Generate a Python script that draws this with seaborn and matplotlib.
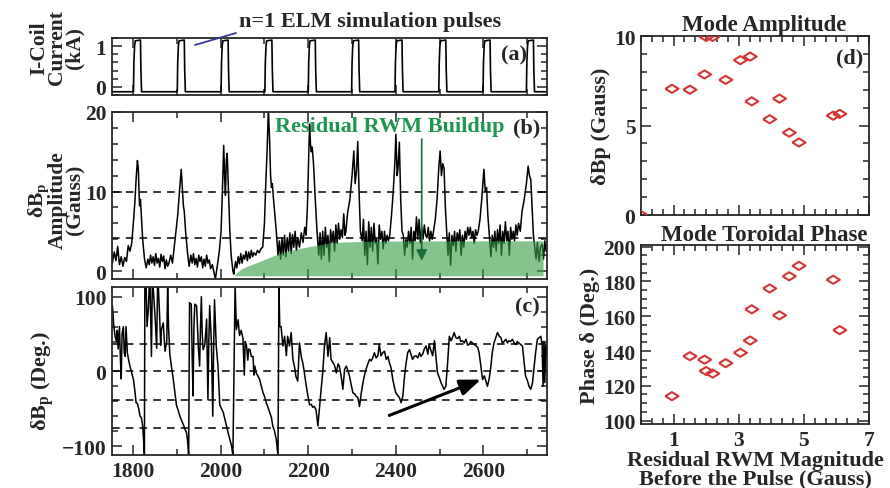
import numpy as np
import pandas as pd
import seaborn as sns
import matplotlib.pyplot as plt
from matplotlib.ticker import MultipleLocator

# ---- (a) I-coil pulses: start times (ms) and pulse shape (offset ms, kA)
pulse_start = [1801, 1901, 2001, 2101, 2200, 2299, 2398, 2498, 2599, 2698]
pulse_dt = [0, 1, 2.5, 4, 16, 17, 18.5]
pulse_lvl = [-0.12, 0.6, 1.0, 1.13, 1.15, 0.4, -0.12]
coil_base = -0.12

# ---- (b) dBp amplitude (Gauss) vs time (ms)
amp_t = [1753, 1757, 1761, 1765, 1769, 1773, 1777, 1781, 1785, 1789, 1793, 1797,
         1800, 1804, 1807, 1810, 1812, 1814, 1815, 1817, 1819, 1822, 1826, 1830,
         1834, 1837, 1840, 1843, 1846, 1849, 1852, 1855, 1858, 1861, 1864, 1867,
         1870, 1873, 1876, 1879, 1882, 1886, 1890, 1894, 1898, 1902, 1906, 1910,
         1913, 1915, 1917, 1920, 1924, 1928, 1932, 1935, 1938, 1941, 1944, 1947,
         1950, 1953, 1956, 1959, 1962, 1965, 1968, 1971, 1974, 1977, 1981, 1985,
         1988, 1992, 1997, 2001, 2004, 2007, 2009, 2011, 2013, 2015, 2018, 2021,
         2024, 2028, 2030, 2034, 2037, 2040, 2043, 2046, 2049, 2052, 2055, 2058,
         2061, 2064, 2067, 2070, 2073, 2076, 2080, 2084, 2088, 2092, 2096, 2100,
         2103, 2106, 2109, 2112, 2114, 2116, 2118, 2120, 2124, 2127, 2131, 2134,
         2137, 2140, 2143, 2146, 2149, 2152, 2155, 2158, 2161, 2164, 2167, 2170,
         2173, 2176, 2180, 2184, 2188, 2192, 2195, 2198, 2201, 2203, 2205, 2207,
         2209, 2212, 2216, 2220, 2224, 2227, 2230, 2233, 2236, 2239, 2242, 2245,
         2248, 2251, 2254, 2257, 2260, 2263, 2266, 2269, 2272, 2275, 2278, 2281,
         2284, 2286, 2290, 2295, 2300, 2304, 2307, 2310, 2313, 2316, 2319, 2323,
         2326, 2329, 2332, 2335, 2338, 2341, 2344, 2347, 2350, 2353, 2356, 2359,
         2362, 2365, 2368, 2371, 2374, 2377, 2380, 2383, 2386, 2390, 2394, 2398,
         2400, 2403, 2405, 2408, 2411, 2414, 2417, 2420, 2423, 2426, 2429, 2432,
         2435, 2438, 2441, 2444, 2447, 2450, 2453, 2456, 2459, 2462, 2465, 2468,
         2471, 2474, 2477, 2480, 2483, 2486, 2490, 2494, 2498, 2501, 2504, 2507,
         2510, 2513, 2516, 2519, 2522, 2525, 2528, 2531, 2534, 2537, 2540, 2543,
         2546, 2549, 2552, 2555, 2558, 2561, 2564, 2567, 2570, 2573, 2576, 2579,
         2582, 2585, 2588, 2592, 2596, 2601, 2604, 2607, 2610, 2614, 2617, 2620,
         2623, 2626, 2629, 2632, 2635, 2638, 2641, 2644, 2647, 2650, 2653, 2656,
         2659, 2662, 2665, 2668, 2671, 2674, 2677, 2680, 2684, 2688, 2693, 2698,
         2702, 2705, 2708, 2711, 2714, 2717, 2720, 2723, 2727, 2730, 2734, 2737,
         2740, 2743]
amp_v = [1.0, 2.4, 1.3, 3.1, 0.8, 1.8, 0.6, 1.7, 1.2, 3.2, 2.5, 3.5,
         5.5, 8.5, 11.5, 13.9, 13.0, 9.5, 8.2, 9.0, 7.0, 4.0, 1.6, 0.4,
         1.5, 0.8, 2.0, 1.0, 1.8, 0.7, 2.2, 1.0, 1.6, 0.5, 2.1, 1.2,
         1.9, 0.3, 1.4, 0.6, 1.0, 2.0, 1.0, 3.0, 5.0, 7.0, 10.0, 12.8,
         10.0, 8.2, 7.5, 5.0, 2.5, 0.6, 2.0, 1.0, 2.2, 0.8, 1.6, 0.5,
         2.0, 1.2, 1.8, 0.4, 1.5, 0.6, 2.0, 1.0, 1.4, 0.3, 0.8, -0.2,
         -1.0, 0.5, 2.5, 5.0, 10.0, 15.8, 12.0, 9.5, 14.0, 14.8, 10.0, 5.0,
         2.0, 0.0, -0.4, 1.2, 0.4, 1.8, 0.9, 2.2, 1.0, 2.0, 1.5, 2.5,
         1.3, 2.4, 1.6, 2.6, 1.8, 2.3, 2.0, 2.6, 2.3, 2.8, 3.0, 6.0,
         11.0, 15.0, 20.5, 16.0, 12.0, 10.5, 11.0, 9.5, 7.0, 5.0, 2.0, 3.8,
         1.5, 4.2, 2.0, 4.5, 1.8, 4.2, 2.5, 4.8, 2.2, 4.6, 3.0, 5.0,
         2.6, 4.2, 3.0, 4.8, 3.6, 5.5, 4.5, 8.0, 14.0, 18.5, 16.0, 15.0,
         15.6, 13.5, 9.0, 5.0, 2.0, 4.8, 1.5, 5.0, 2.0, 5.5, 3.0, 4.5,
         1.2, 5.2, 3.6, 5.0, 2.5, 5.8, 3.5, 6.0, 4.0, 5.2, 4.2, 7.2,
         4.5, 5.0, 7.4, 9.0, 12.0, 15.1, 11.0, 12.5, 16.3, 10.0, 5.0, 3.8,
         6.5, 2.0, 5.0, 0.8, 6.2, 3.0, 5.5, 2.5, 6.0, 3.5, 4.0, 0.9,
         5.8, 4.0, 5.0, 2.8, 5.0, 3.5, 4.5, 3.8, 4.5, 7.0, 10.0, 14.0,
         17.2, 12.0, 13.0, 16.2, 9.0, 5.0, 4.5, 2.0, 4.0, 3.0, 5.0, 3.5,
         5.5, 1.5, 5.0, 3.8, 6.8, 4.0, 6.5, 3.5, 5.5, 4.0, 5.8, 4.5,
         4.2, 5.5, 3.8, 5.0, 4.0, 5.0, 6.5, 9.0, 13.0, 15.1, 12.0, 13.5,
         12.9, 8.0, 5.0, 2.0, 4.8, 0.7, 4.5, 3.2, 5.0, 2.5, 4.8, 3.8,
         5.2, 2.0, 4.5, 3.0, 5.0, 4.0, 5.5, 4.5, 5.5, 4.2, 5.0, 3.5,
         5.2, 4.5, 5.0, 6.5, 9.0, 12.8, 10.0, 10.5, 7.0, 4.0, 1.8, 4.5,
         3.0, 5.0, 2.5, 5.2, 3.5, 5.8, 2.0, 5.0, 3.5, 6.2, 3.8, 5.0,
         2.0, 5.5, 4.0, 5.0, 3.8, 5.8, 4.5, 6.0, 5.0, 7.5, 9.0, 11.0,
         13.2, 12.0, 11.5, 8.0, 4.5, 3.0, 1.5, 3.6, 1.2, 3.0, 3.4, 1.5,
         3.8, 2.5]

# residual RWM buildup envelope (green band)
buildup_t = [2030, 2045, 2060, 2080, 2100, 2120, 2140, 2160, 2180, 2200,
             2225, 2250, 2280, 2320, 2380, 2736]
buildup_v = [-0.6, 0.2, 0.6, 1.0, 1.45, 1.9, 2.3, 2.6, 2.85, 3.05,
             3.3, 3.55, 3.65, 3.72, 3.78, 3.8]
buildup_floor = -0.6

# ---- (c) dBp phase (deg) vs time (ms)
ph_t = [1753, 1756, 1759, 1762, 1764, 1766, 1769, 1771, 1773, 1775, 1778, 1780,
        1782, 1784, 1787, 1790, 1793, 1797, 1801, 1804, 1807, 1810, 1813, 1816,
        1819, 1822, 1825, 1826,
        1827, 1830, 1832, 1835, 1837, 1839, 1842, 1844, 1846, 1850, 1854, 1856,
        1858, 1861, 1863, 1865, 1869, 1873, 1877, 1879, 1881, 1884, 1888, 1892,
        1896, 1899, 1903, 1907, 1911, 1916, 1919, 1922, 1925, 1927,
        1929, 1933, 1935, 1937, 1939, 1941, 1945, 1949, 1952, 1954, 1956, 1958,
        1960, 1964, 1968, 1971, 1973, 1975, 1979, 1982, 1984, 1986, 1989, 1990,
        1994, 1998, 2002, 2006, 2010, 2013, 2017, 2021, 2025, 2028,
        2033, 2036, 2040, 2043, 2047, 2051, 2054, 2056, 2059, 2062, 2064, 2067,
        2070, 2074, 2076, 2078, 2081, 2085, 2089, 2093, 2097, 2101, 2104, 2108,
        2112, 2116, 2119, 2123, 2127, 2131,
        2133, 2135, 2138, 2142, 2146, 2150, 2153, 2157, 2161, 2165, 2169, 2172,
        2176, 2180, 2184, 2188, 2192, 2195, 2199, 2203, 2207, 2210, 2214, 2218,
        2222, 2226, 2230, 2233, 2237, 2241, 2245, 2249, 2252, 2256, 2260, 2264,
        2268, 2271, 2275, 2279, 2283, 2287, 2291, 2294, 2298, 2302, 2306, 2309,
        2313, 2317, 2321, 2325, 2328, 2332, 2336, 2340, 2344, 2347, 2351, 2355,
        2359, 2362, 2366, 2370, 2374, 2378, 2382, 2385, 2389, 2393, 2397, 2400,
        2404, 2408, 2412, 2416, 2419, 2423, 2427, 2431, 2435, 2438, 2442, 2446,
        2450, 2454, 2457, 2461, 2465, 2469, 2473, 2476, 2480, 2484, 2488, 2492,
        2495, 2499, 2503, 2507, 2510, 2514, 2518, 2522, 2526, 2529, 2533, 2537,
        2541, 2545, 2548, 2552, 2556, 2560, 2564, 2567, 2571, 2575, 2579, 2583,
        2587, 2590, 2594, 2598, 2602, 2605, 2609, 2613, 2617, 2620, 2624, 2628,
        2632, 2636, 2640, 2643, 2647, 2651, 2655, 2658, 2662, 2666, 2670, 2674,
        2677, 2681, 2685, 2689, 2693, 2696, 2700, 2704, 2708, 2712, 2715, 2719,
        2723, 2727, 2731, 2734, 2736, 2738, 2740, 2742, 2744]
ph_v = [88, 62, 47, 40, 55, 30, 60, 20, -10, 50, 60, 25,
        20, 60, 25, 15, 7, -2, -11, -25, -42, -43, -50, -60,
        -62, -73, -100, -113,
        115, 112, 60, 84, 115, 112, 20, 115, 112, 76, 31, 115,
        112, 70, 35, 56, 65, 27, 40, 112, 60, 23, 5, -11,
        -30, -45, -52, -60, -66, -73, -78, -82, -95, -113,
        92, 90, 20, -33, 60, 90, 88, 34, 7, 60, 100, 50,
        29, 36, 70, -38, 40, 88, 38, -60, 30, 96, 50, 34,
        7, -45, -50, -55, -65, -73, -82, -91, -100, -113,
        115, 56, 69, 48, 55, 44, -5, 40, 35, 15, 30, 29,
        20, 20, -5, 7, -2, -6, -11, -20, -29, -35, -42, -48,
        -55, -62, -73, -80, -91, -113,
        115, 60, 60, 34, 47, 21, 47, 34, 52, 16, 5, -7,
        -13, 38, 20, 10, -5, -18, -32, -45, -44, -48, -47, -52,
        -73, -46, -20, -2, 34, 52, 20, 45, 16, 12, 8, -2,
        10, 7, -6, -24, 3, 7, 0, -6, -18, -29, -30, -33,
        -35, -47, -29, -15, -6, 3, 10, 16, 14, 18, 25, 18,
        21, 36, 21, 25, 27, 16, 20, 12, 5, -11, -22, -29,
        -32, -35, -42, -33, -11, 10, 25, 29, 22, 16, 20, 21,
        18, 25, 20, 23, 30, 34, 23, 36, 28, 21, 41, 16,
        -2, -8, -15, -20, -24, -20, 10, 47, 41, 45, 52, 45,
        44, 47, 40, 41, 38, 43, 35, 36, 40, 38, 36, 34,
        32, 25, 7, -11, -6, -12, -20, -10, 7, 25, 38, 45,
        52, 47, 45, 38, 40, 43, 38, 41, 40, 43, 38, 36,
        40, 38, 36, 34, 11, -6, -12, -20, -24, -15, 3, 25,
        43, 45, 47, 34, -20, 40, -15, 35, 20]

# ---- (d), (e) per-pulse values vs residual RWM magnitude (Gauss)
resid = [0.0, 0.95, 1.5, 1.95, 2.0, 2.2, 2.6, 3.05, 3.35, 3.4, 3.95, 4.25,
         4.55, 4.85, 5.9, 6.1]
mode_amp = [0.0, 7.05, 7.0, 7.85, 9.95, 9.95, 7.55, 8.65, 8.85, 6.35, 5.35,
            6.5, 4.6, 4.05, 5.55, 5.65]
mode_phase = [0.0, 114, 137, 135, 128.5, 127, 133, 139, 146, 164, 176,
              160.5, 183, 189, 181, 152]

# build the coil trace from the pulse list
coil_t, coil_v = [1750], [coil_base]
for t0 in pulse_start:
    for dt, lv in zip(pulse_dt, pulse_lvl):
        coil_t.append(t0 + dt)
        coil_v.append(lv)
coil_t.append(2745)
coil_v.append(coil_base)

coil_df = pd.DataFrame({'t': coil_t, 'v': coil_v})
amp_df = pd.DataFrame({'t': amp_t, 'v': amp_v})
ph_df = pd.DataFrame({'t': ph_t, 'v': ph_v})
pulse_df = pd.DataFrame({'resid': resid, 'amp': mode_amp, 'phase': mode_phase})

sns.set_style('ticks')
plt.rcParams['font.family'] = ['Liberation Serif', 'DejaVu Serif']
plt.rcParams['font.weight'] = 'bold'
plt.rcParams['axes.labelweight'] = 'bold'
plt.rcParams['axes.titleweight'] = 'bold'
plt.rcParams['mathtext.fontset'] = 'custom'
plt.rcParams['mathtext.rm'] = 'Liberation Serif:bold'
plt.rcParams['mathtext.it'] = 'Liberation Serif:bold'
plt.rcParams['mathtext.bf'] = 'Liberation Serif:bold'
plt.rcParams['axes.linewidth'] = 1.3

W, H = 890, 489
fig = plt.figure(figsize=(8.9, 4.89), dpi=100)


def box(l, t, r, b):
    return [l / W, 1 - b / H, (r - l) / W, (b - t) / H]


ax_a = fig.add_axes(box(112, 39, 547, 96))
ax_b = fig.add_axes(box(112, 113, 547, 280))
ax_c = fig.add_axes(box(112, 288, 547, 456))
ax_d = fig.add_axes(box(641, 37, 869, 216))
ax_e = fig.add_axes(box(641, 246, 869, 425))

TICK_FS = 15.5
LAB_FS = 16
red = '#d43535'

for ax in [ax_a, ax_b, ax_c, ax_d, ax_e]:
    ax.tick_params(which='both', direction='in', top=True, right=True,
                   labelsize=TICK_FS, width=1.1, pad=4)
    ax.tick_params(which='major', length=7)
    ax.tick_params(which='minor', length=4)

# (a)
sns.lineplot(data=coil_df, x='t', y='v', ax=ax_a, color='black', lw=1.2,
             sort=False, estimator=None)
ax_a.set_ylim(-0.2, 1.2)
ax_a.yaxis.set_major_locator(MultipleLocator(1))
ax_a.yaxis.set_minor_locator(MultipleLocator(0.2))

# (b)
sns.lineplot(data=amp_df, x='t', y='v', ax=ax_b, color='black', lw=1.1,
             sort=False, estimator=None)
for yl in [10, 4.2]:
    ax_b.axhline(yl, color='black', lw=1.1, ls=(0, (5, 4)))
ax_b.fill_between(buildup_t, buildup_floor, buildup_v, color='#3aa04a',
                  alpha=0.62, lw=0, zorder=3)
ax_b.set_ylim(-1.0, 20.0)
ax_b.yaxis.set_major_locator(MultipleLocator(10))
ax_b.yaxis.set_minor_locator(MultipleLocator(2))
ax_b.annotate('', xy=(2459, 1.3), xytext=(2459, 16.6),
              arrowprops=dict(arrowstyle='-|>', color='#1d6b35', lw=1.2,
                              mutation_scale=16, shrinkA=0, shrinkB=0),
              zorder=4)
fig.text(275 / W, 1 - 127 / H, 'Residual RWM Buildup', color='#1e9650',
         fontsize=LAB_FS, fontweight='bold', ha='left', va='center')

# (c)
sns.lineplot(data=ph_df, x='t', y='v', ax=ax_c, color='black', lw=1.1,
             sort=False, estimator=None)
for yl in [37, 0, -38, -76]:
    ax_c.axhline(yl, color='black', lw=1.1, ls=(0, (5, 4)))
ax_c.set_ylim(-112, 113)
ax_c.yaxis.set_major_locator(MultipleLocator(100))
ax_c.yaxis.set_minor_locator(MultipleLocator(20))
ax_c.annotate('', xy=(2594, -11), xytext=(2385, -59),
              arrowprops=dict(arrowstyle='-|>,head_length=0.9,head_width=0.35',
                              color='black', lw=2.2, mutation_scale=14,
                              shrinkA=0, shrinkB=0))

for ax in [ax_a, ax_b, ax_c]:
    ax.set_xlim(1752, 2745)
    ax.xaxis.set_major_locator(MultipleLocator(200))
    ax.xaxis.set_minor_locator(MultipleLocator(100))
    ax.set_xlabel('')
    ax.set_ylabel('')
ax_a.tick_params(labelbottom=False)
ax_b.tick_params(labelbottom=False)

# left-hand y labels
fig.text(57 / W, 1 - 48 / H, 'I-Coil\nCurrent\n(kA)', rotation=90,
         fontsize=15.5, fontweight='bold', ha='center', va='center',
         multialignment='center', linespacing=0.82)
fig.text(56 / W, 1 - 200 / H, 'δB$_{\\rm p}$\nAmplitude\n(Gauss)', rotation=90,
         fontsize=15.5, fontweight='bold', ha='center', va='center',
         multialignment='center', linespacing=0.82)
fig.text(43 / W, 1 - 381 / H, 'δB$_{\\rm p}$ (Deg.)', rotation=90,
         fontsize=LAB_FS, fontweight='bold', ha='center', va='center')

# n=1 pulse note
fig.text(239 / W, 1 - 22 / H, 'n=1 ELM simulation pulses', fontsize=LAB_FS,
         fontweight='bold', ha='left', va='center')
fig.add_artist(plt.Line2D([195 / W, 236 / W], [1 - 46 / H, 1 - 34 / H],
                          color='#3b3b9a', lw=1.3))

# panel tags
for (px, py, s) in [(514, 55, '(a)'), (527, 128, '(b)'), (527, 307, '(c)'),
                    (850, 58, '(d)')]:
    fig.text(px / W, 1 - py / H, s, fontsize=LAB_FS, fontweight='bold',
             ha='center', va='center')

# (d), (e)
diamond = [(-1, 0), (0, 0.62), (1, 0), (0, -0.62), (-1, 0)]
sns.scatterplot(data=pulse_df, x='resid', y='amp', ax=ax_d, marker=diamond,
                s=90, facecolor='none', edgecolor=red, linewidth=1.5,
                clip_on=True, zorder=3)
sns.scatterplot(data=pulse_df, x='resid', y='phase', ax=ax_e, marker=diamond,
                s=90, facecolor='none', edgecolor=red, linewidth=1.5,
                clip_on=True, zorder=3)

for ax in [ax_d, ax_e]:
    ax.set_xlim(0, 7)
    ax.xaxis.set_minor_locator(MultipleLocator(1 / 3))
    ax.set_xticks([1, 3, 5, 7])
ax_d.set_ylim(0, 10)
ax_d.yaxis.set_major_locator(MultipleLocator(5))
ax_d.yaxis.set_minor_locator(MultipleLocator(1))
ax_d.tick_params(labelbottom=False)
ax_d.set_xlabel('')
ax_d.set_ylabel('δBp (Gauss)', fontsize=LAB_FS, fontweight='bold', labelpad=2)
ax_d.set_title('Mode Amplitude', fontsize=LAB_FS + 0.5, fontweight='bold', pad=4,
               x=0.54)

ax_e.set_ylim(98, 201)
ax_e.yaxis.set_major_locator(MultipleLocator(20))
ax_e.yaxis.set_minor_locator(MultipleLocator(5))
ax_e.set_ylabel('Phase δ (Deg.)', fontsize=LAB_FS, fontweight='bold', labelpad=2)
ax_e.set_xlabel('Residual RWM Magnitude\nBefore the Pulse (Gauss)',
                fontsize=LAB_FS, fontweight='bold', labelpad=0, linespacing=0.9)
ax_e.set_title('Mode Toroidal Phase', fontsize=LAB_FS + 0.5, fontweight='bold',
               pad=1, x=0.54)

for ax in [ax_a, ax_b, ax_c, ax_d, ax_e]:
    for lab in ax.get_xticklabels() + ax.get_yticklabels():
        lab.set_fontweight('bold')
    for sp in ax.spines.values():
        sp.set_linewidth(1.3)

fig.savefig('out.png', dpi=100)
